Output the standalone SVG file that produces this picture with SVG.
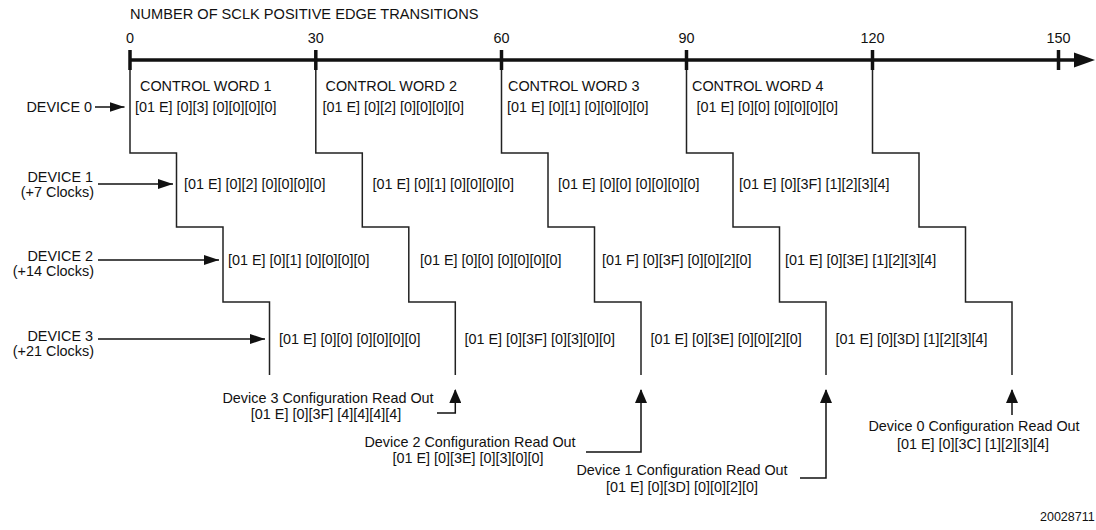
<svg xmlns="http://www.w3.org/2000/svg" width="1096" height="530" viewBox="0 0 1096 530">
  <defs>
    <style>
      text { font-family: "Liberation Sans", Arial, Helvetica, sans-serif; font-size: 14.4px; fill: #111; }
      .mid { text-anchor: middle; }
      .end { text-anchor: end; }
      .title { font-size: 14.6px; }
      .stair { fill: none; stroke: #222; stroke-width: 1.5; }
      .arr { fill: none; stroke: #111; stroke-width: 1.5; }
      .tick { stroke: #111; stroke-width: 3.5; }
      .small { font-size: 12.5px; }
    </style>
    <marker id="ah" viewBox="0 0 15 10" refX="15" refY="5" markerWidth="15" markerHeight="10" markerUnits="userSpaceOnUse" orient="auto">
      <path d="M0,0 L15,5 L0,10 z" fill="#111"/>
    </marker>
    <marker id="ahu" viewBox="0 0 14 12" refX="13" refY="6" markerWidth="14" markerHeight="12" markerUnits="userSpaceOnUse" orient="auto">
      <path d="M0,0 L14,6 L0,12 z" fill="#111"/>
    </marker>
  </defs>
  <rect width="1096" height="530" fill="#fff"/>

  <g id="axis">
    <text class="title" x="130" y="19">NUMBER OF SCLK POSITIVE EDGE TRANSITIONS</text>
    <line x1="130" y1="60" x2="1078" y2="60" stroke="#111" stroke-width="3.5"/>
    <path d="M1074,52.5 L1095,60 L1074,67.5 z" fill="#111"/>
    <line class="tick" x1="130" y1="50" x2="130" y2="70"/>
    <line class="tick" x1="315.8" y1="50" x2="315.8" y2="70"/>
    <line class="tick" x1="501.5" y1="50" x2="501.5" y2="70"/>
    <line class="tick" x1="686.5" y1="50" x2="686.5" y2="70"/>
    <line class="tick" x1="872.5" y1="50" x2="872.5" y2="70"/>
    <line class="tick" x1="1058.5" y1="50" x2="1058.5" y2="70"/>
    <text class="mid" x="130" y="43">0</text>
    <text class="mid" x="315.8" y="43">30</text>
    <text class="mid" x="501.5" y="43">60</text>
    <text class="mid" x="686.5" y="43">90</text>
    <text class="mid" x="872.5" y="43">120</text>
    <text class="mid" x="1058.5" y="43">150</text>
  </g>

  <g id="connectors">
    <path class="stair" d="M130,70 V153 H176.5 V227 H223 V302 H269.5 V375"/>
    <path class="stair" d="M315.8,70 V153 H362.3 V227 H408.8 V302 H455.3 V375"/>
    <path class="stair" d="M501.5,70 V153 H548 V227 H594.5 V302 H641 V375"/>
    <path class="stair" d="M686.5,70 V153 H733 V227 H779.5 V302 H826 V375"/>
    <path class="stair" d="M872.5,70 V153 H919 V227 H965.5 V302 H1012 V375"/>
    <line class="arr" x1="95" y1="107" x2="124.5" y2="107" marker-end="url(#ah)"/>
    <line class="arr" x1="98" y1="184" x2="173" y2="184" marker-end="url(#ah)"/>
    <line class="arr" x1="98" y1="260" x2="219" y2="260" marker-end="url(#ah)"/>
    <line class="arr" x1="98" y1="339" x2="265" y2="339" marker-end="url(#ah)"/>
    <path class="arr" d="M437,413 H455.3 V390" marker-end="url(#ahu)"/>
    <path class="arr" d="M586,452 H641 V390" marker-end="url(#ahu)"/>
    <path class="arr" d="M800,478 H826 V390" marker-end="url(#ahu)"/>
    <path class="arr" d="M1012,415 V390" marker-end="url(#ahu)"/>
  </g>

  <g id="device0">
    <text class="end" x="92" y="112">DEVICE 0</text>
  </g>
  <g id="device1">
    <text class="end" x="93" y="182">DEVICE 1</text>
    <text class="end" x="94" y="197">(+7 Clocks)</text>
  </g>
  <g id="device2">
    <text class="end" x="93" y="261">DEVICE 2</text>
    <text class="end" x="94" y="276">(+14 Clocks)</text>
  </g>
  <g id="device3">
    <text class="end" x="93" y="341">DEVICE 3</text>
    <text class="end" x="94" y="356">(+21 Clocks)</text>
  </g>

  <g id="control-words">
    <text x="140" y="91">CONTROL WORD 1</text>
    <text x="325.5" y="91">CONTROL WORD 2</text>
    <text x="508" y="91">CONTROL WORD 3</text>
    <text x="692" y="91">CONTROL WORD 4</text>
  </g>

  <g id="row0">
    <text x="135" y="112">[01 E] [0][3] [0][0][0][0]</text>
    <text x="322.5" y="112">[01 E] [0][2] [0][0][0][0]</text>
    <text x="507" y="112">[01 E] [0][1] [0][0][0][0]</text>
    <text x="696.5" y="112">[01 E] [0][0] [0][0][0][0]</text>
  </g>
  <g id="row1">
    <text x="184" y="189">[01 E] [0][2] [0][0][0][0]</text>
    <text x="372.5" y="189">[01 E] [0][1] [0][0][0][0]</text>
    <text x="558" y="189">[01 E] [0][0] [0][0][0][0]</text>
    <text x="739" y="189">[01 E] [0][3F] [1][2][3][4]</text>
  </g>
  <g id="row2">
    <text x="228" y="265">[01 E] [0][1] [0][0][0][0]</text>
    <text x="420" y="265">[01 E] [0][0] [0][0][0][0]</text>
    <text x="602" y="265">[01 F] [0][3F] [0][0][2][0]</text>
    <text x="785" y="265">[01 E] [0][3E] [1][2][3][4]</text>
  </g>
  <g id="row3">
    <text x="279" y="344">[01 E] [0][0] [0][0][0][0]</text>
    <text x="464.5" y="344">[01 E] [0][3F] [0][3][0][0]</text>
    <text x="650.5" y="344">[01 E] [0][3E] [0][0][2][0]</text>
    <text x="835.5" y="344">[01 E] [0][3D] [1][2][3][4]</text>
  </g>

  <g id="readout3">
    <text class="mid" x="328" y="403">Device 3 Configuration Read Out</text>
    <text class="mid" x="326" y="419">[01 E] [0][3F] [4][4][4][4]</text>
  </g>
  <g id="readout2">
    <text class="mid" x="470" y="447">Device 2 Configuration Read Out</text>
    <text class="mid" x="468" y="463">[01 E] [0][3E] [0][3][0][0]</text>
  </g>
  <g id="readout1">
    <text class="mid" x="682" y="475">Device 1 Configuration Read Out</text>
    <text class="mid" x="682" y="492">[01 E] [0][3D] [0][0][2][0]</text>
  </g>
  <g id="readout0">
    <text class="mid" x="974" y="431">Device 0 Configuration Read Out</text>
    <text class="mid" x="973" y="449">[01 E] [0][3C] [1][2][3][4]</text>
  </g>

  <text class="small" x="1040" y="521">20028711</text>
</svg>
